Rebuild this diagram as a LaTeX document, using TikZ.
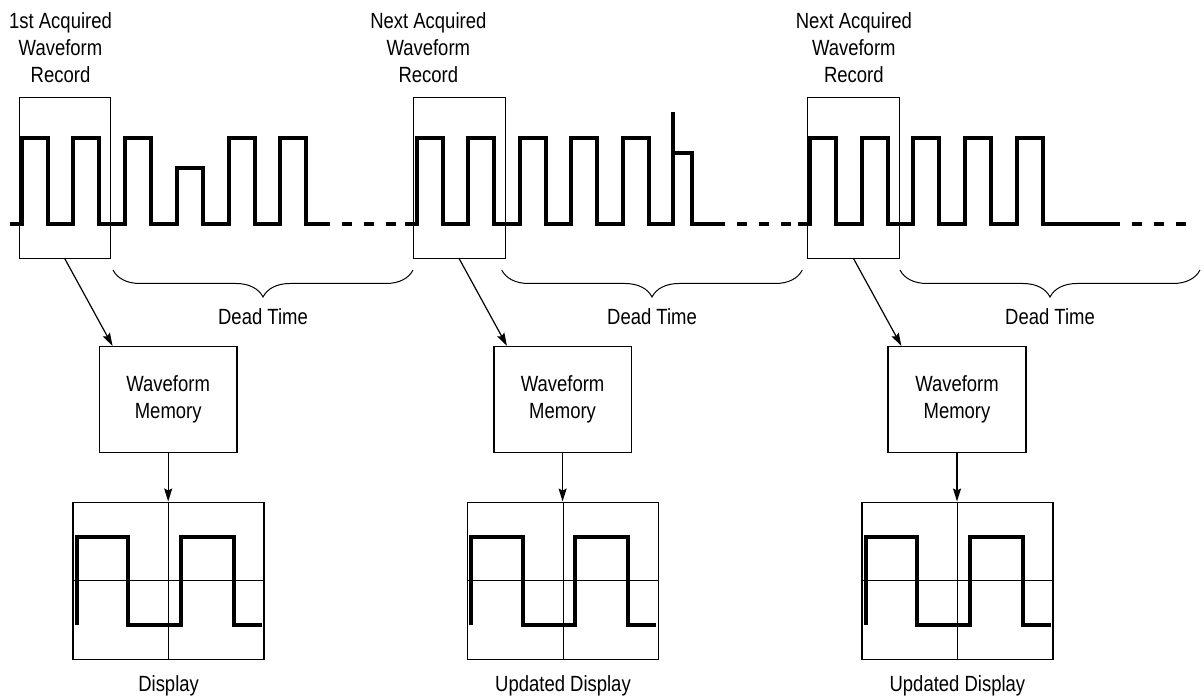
\documentclass[tikz,border=0pt]{standalone}
\usepackage{fontspec}
\setmainfont{Liberation Sans}[FakeStretch=0.84]
\usetikzlibrary{arrows.meta,decorations.pathreplacing}

\tikzset{
  signal/.style={line width=4pt},
  recbox/.style={draw, line width=1pt, minimum width=91.7pt, minimum height=161pt, inner sep=0pt},
  membox/.style={draw, line width=1.6pt, minimum width=137.7pt, minimum height=105.6pt, align=center},
  dispbox/.style={draw, line width=1.6pt, minimum width=190.7pt, minimum height=157pt, inner sep=0pt},
  hair/.style={line width=0.8pt},
  feed/.style={line width=1.2pt, -{Stealth[length=13pt,width=8pt,inset=2pt]}},
  deadbrace/.style={decorate, decoration={brace, amplitude=27pt, mirror}, line width=1pt},
  lbl/.style={align=center, inner sep=0pt},
}

\begin{document}
\begin{tikzpicture}[x=1pt, y=-1pt, font=\fontsize{22}{27}\selectfont]
  \useasboundingbox (0,0) rectangle (1204,700);

  \foreach \i/\dx/\lx/\rectitle/\disptitle in {1/0/60.5/1st Acquired/Display,
      2/394.4/33.9/Next Acquired/Updated Display, 3/788.8/65/Next Acquired/Updated Display}{
    \begin{scope}[xshift=\dx pt]
      \node[recbox] (rec\i) at (64.85,177.8) {};
      \node[lbl, anchor=south] (title\i) at (\lx,83) {\rectitle\\Waveform\\Record};
      \node[membox] (mem\i) at (168.2,399.5) {Waveform\\Memory};
      \node[dispbox] (disp\i) at (168.6,580.8) {};
      \node[lbl, anchor=base] (screen\i) at (168.6,691.7) {\disptitle};
      \draw[hair] (disp\i.north) -- (disp\i.south) (disp\i.west) -- (disp\i.east);
      \draw[signal] (76.7,625) -- (76.7,537.3) -- (128.3,537.3) -- (128.3,625) -- (181,625)
        -- (181,537.3) -- (234,537.3) -- (234,625) -- (261.7,625);
      \draw[feed] (rec\i.south) -- ([xshift=14pt]mem\i.north west);
      \draw[feed] (mem\i.south) -- (mem\i.south |- disp\i.north);
    \end{scope}
  }

  \draw[signal] (10,224.3) \foreach \x/\h in {21.7/137.7,73.4/137.7,125.1/137.7,176.8/167.7,228.5/137.7,280.2/137.7}{
    -- (\x,224.3) -- (\x,\h) -- (\x+26,\h) -- (\x+26,224.3)} -- (330,224.3);
  \draw[signal] (405,224.3) \foreach \x in {416.5,468,519.5,571,622.5}{
    -- (\x,224.3) -- (\x,137.7) -- (\x+26,137.7) -- (\x+26,224.3)}
    -- (673.3,224.3) -- (673.3,111.7) (673.3,153.3) -- (691.7,153.3) -- (691.7,224.3) -- (725,224.3);
  \draw[signal] (798,224.3) \foreach \x in {810,861.7,913.4,965.1,1016.8}{
    -- (\x,224.3) -- (\x,137.7) -- (\x+26,137.7) -- (\x+26,224.3)} -- (1120,224.3);
  \foreach \a/\b in {330/405,725/802,1120/1186}{
    \draw[signal, dash pattern=on 10pt off 12pt, dash phase=10pt] (\a,224.3) -- (\b,224.3);
  }

  \foreach \a/\b [count=\i] in {113/413,501.7/802.3,900/1200}{
    \draw[deadbrace] (\a,270) -- node[midway, anchor=base, yshift=-55pt] (dead\i) {Dead Time} (\b,270);
  }
\end{tikzpicture}
\end{document}
